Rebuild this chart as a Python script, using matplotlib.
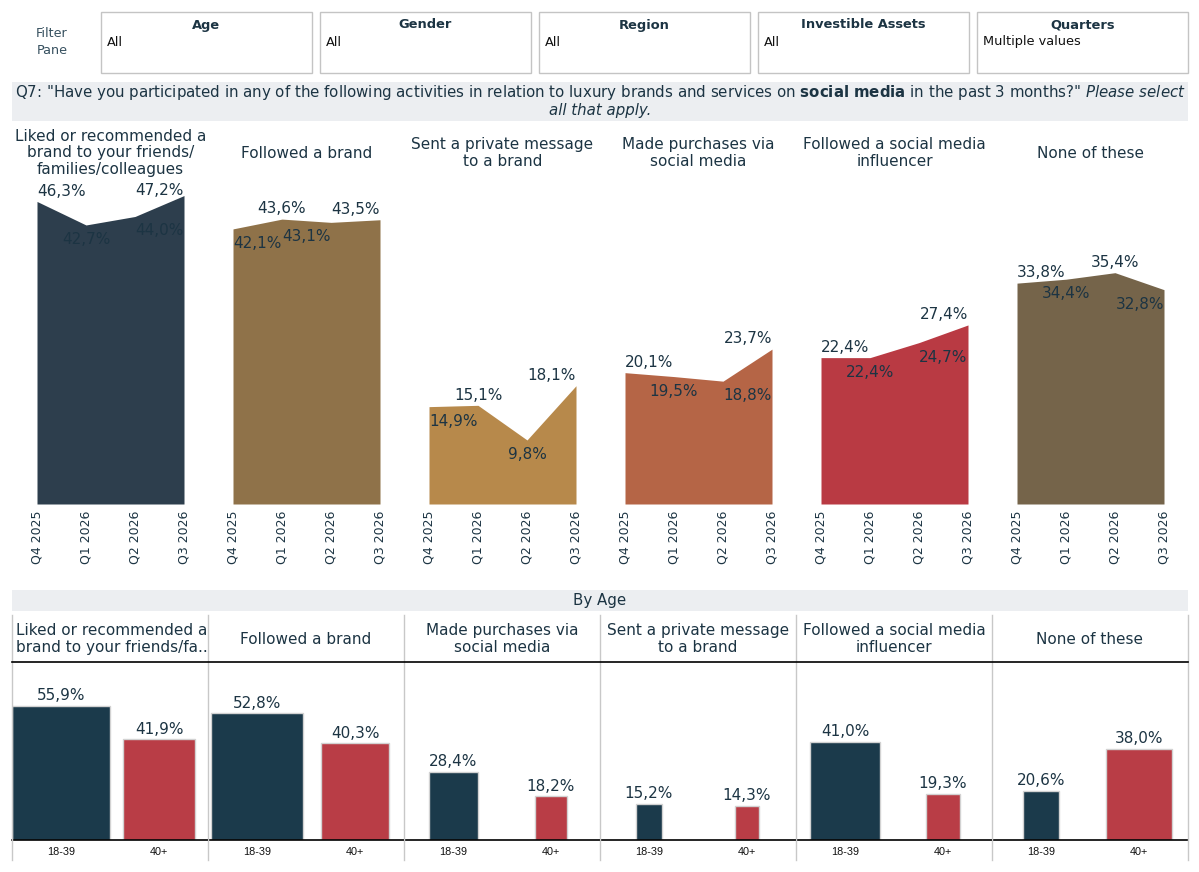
import matplotlib
matplotlib.use('Agg')
import matplotlib.pyplot as plt
from matplotlib.patches import Rectangle
from matplotlib.lines import Line2D

# ---------------- data ----------------
quarters = ['Q4 2025', 'Q1 2026', 'Q2 2026', 'Q3 2026']
activities = ['Liked or recommended a\nbrand to your friends/\nfamilies/colleagues',
              'Followed a brand',
              'Sent a private message\nto a brand',
              'Made purchases via\nsocial media',
              'Followed a social media\ninfluencer',
              'None of these']
liked = [46.3, 42.7, 44.0, 47.2]
followed_brand = [42.1, 43.6, 43.1, 43.5]
private_msg = [14.9, 15.1, 9.8, 18.1]
purchases = [20.1, 19.5, 18.8, 23.7]
influencer = [22.4, 22.4, 24.7, 27.4]
none_of_these = [33.8, 34.4, 35.4, 32.8]

age_groups = ['18-39', '40+']
age_activities = ['Liked or recommended a\nbrand to your friends/fa..',
                  'Followed a brand',
                  'Made purchases via\nsocial media',
                  'Sent a private message\nto a brand',
                  'Followed a social media\ninfluencer',
                  'None of these']
age_18_39 = [55.9, 52.8, 28.4, 15.2, 41.0, 20.6]
age_40_plus = [41.9, 40.3, 18.2, 14.3, 19.3, 38.0]
# relative base size encoded as bar width
size_18_39 = [1.0, 0.94, 0.50, 0.265, 0.72, 0.36]
size_40_plus = [0.735, 0.70, 0.32, 0.245, 0.34, 0.67]

filters = ['Age', 'Gender', 'Region', 'Investible Assets', 'Quarters']
filter_values = ['All', 'All', 'All', 'All', 'Multiple values']

# ---------------- style ----------------
W, H = 1199, 872
NAVY = '#1c3443'
area_colors = ['#2d3e4d', '#8f7249', '#b7894b', '#b56546', '#b93a43', '#75644a']
c_young = '#1b3a4b'
c_old = '#b93d46'
# (position, alignment, vertical offset in points)
label_style = [
    [('a', 'l', 2), ('b', 'c', -5), ('b', 'l', -5), ('a', 'r', -2)],
    [('b', 'l', -5), ('a', 'c', 2), ('b', 'r', -5), ('a', 'r', 2)],
    [('b', 'l', -5), ('a', 'c', 2), ('b', 'c', -5), ('a', 'r', 2)],
    [('a', 'l', 2), ('b', 'c', -5), ('b', 'l', -5), ('a', 'r', 2)],
    [('a', 'l', 2), ('b', 'c', -5), ('b', 'l', -5), ('a', 'r', 2)],
    [('a', 'l', 2), ('b', 'c', -5), ('a', 'c', 2), ('b', 'r', -5)],
]
FS = 11

plt.rcParams['font.family'] = ['DejaVu Sans']
plt.rcParams['mathtext.fontset'] = 'dejavusans'

fig = plt.figure(figsize=(W / 100, H / 100), dpi=100)
fig.patch.set_facecolor('white')


def fx(x):
    return x / W


def fy(y):
    return 1 - y / H


def add_ax(x0, y0, x1, y1):
    return fig.add_axes([fx(x0), fy(y1), (x1 - x0) / W, (y1 - y0) / H])


def frect(x0, y0, x1, y1, **kw):
    fig.add_artist(Rectangle((fx(x0), fy(y1)), (x1 - x0) / W, (y1 - y0) / H,
                             transform=fig.transFigure, **kw))


def fline(x0, y0, x1, y1, **kw):
    fig.add_artist(Line2D([fx(x0), fx(x1)], [fy(y0), fy(y1)],
                          transform=fig.transFigure, **kw))


def ftext(x, y, s, **kw):
    fig.text(fx(x), fy(y), s, **kw)


def pct(v):
    return f"{v:.1f}%".replace('.', ',')


# ---------------- filter pane ----------------
ftext(52, 42, 'Filter\nPane', ha='center', va='center', fontsize=9.2,
      color='#36505f', linespacing=1.35)
for i, (name, val) in enumerate(zip(filters, filter_values)):
    x0 = 101 + 219 * i
    x1 = x0 + 211
    frect(x0, 12, x1, 73, facecolor='white', edgecolor='#c4c4c4', lw=1)
    ftext((x0 + x1) / 2, 25, name, ha='center', va='center', fontsize=9.4,
          fontweight='bold', color=NAVY)
    ftext(x0 + 6, 42, val, ha='left', va='center', fontsize=9.3, color='#111111')

# ---------------- title band ----------------
frect(12, 82, 1188, 121, facecolor='#eceef1', edgecolor='none')
ftext(600, 93, 'Q7: "Have you participated in any of the following activities in relation '
      'to luxury brands and services on $\\mathbf{social\\ media}$ in the past 3 months?" '
      '$\\mathit{Please\\ select}$', ha='center', va='center', fontsize=10.8, color=NAVY)
ftext(600, 111, 'all that apply.', ha='center', va='center', fontsize=10.8,
      style='italic', color=NAVY)

# ---------------- area panels ----------------
series = [liked, followed_brand, private_msg, purchases, influencer, none_of_these]
for i, vals in enumerate(series):
    x0 = 37 + 196 * i
    ax = add_ax(x0, 125, x0 + 147, 504)
    xs = list(range(len(quarters)))
    ax.fill_between(xs, vals, 0, color=area_colors[i], lw=0)
    ax.set_xlim(0, 3)
    ax.set_ylim(0, 58)
    ax.set_yticks([])
    ax.set_xticks(xs)
    ax.set_xticklabels(quarters, rotation=90, fontsize=9, color=NAVY)
    ax.tick_params(axis='x', length=0, pad=5)
    for sp in ax.spines.values():
        sp.set_visible(False)
    ax.patch.set_alpha(0)
    for j, v in enumerate(vals):
        pos, al, off = label_style[i][j]
        ha = {'l': 'left', 'c': 'center', 'r': 'right'}[al]
        va = 'bottom' if pos == 'a' else 'top'
        ax.annotate(pct(v), (j, v), xytext=(0, off), textcoords='offset points',
                    ha=ha, va=va, fontsize=FS, color=NAVY, annotation_clip=False)
    ftext(x0 + 73.5, 153, activities[i], ha='center', va='center', fontsize=FS,
          color=NAVY, linespacing=1.15)

# ---------------- By Age band ----------------
frect(12, 590, 1188, 611, facecolor='#eceef1', edgecolor='none')
ftext(600, 601, 'By Age', ha='center', va='center', fontsize=10.8, color=NAVY)

for i in range(6):
    px0 = 12 + 196 * i
    ax = add_ax(px0, 662, px0 + 196, 840)
    ax.bar([0.5, 1.5], [age_18_39[i], age_40_plus[i]],
           width=[size_18_39[i], size_40_plus[i]],
           color=[c_young, c_old], edgecolor='#d2d2d2', lw=1)
    ax.set_xlim(0, 2)
    ax.set_ylim(0, 74.2)
    ax.set_yticks([])
    ax.set_xticks([0.5, 1.5])
    ax.set_xticklabels(age_groups, fontsize=7.8, family='Liberation Sans', color='#111111')
    ax.tick_params(axis='x', length=0, pad=5)
    for k in ['top', 'left', 'right']:
        ax.spines[k].set_visible(False)
    ax.spines['bottom'].set_color('black')
    ax.spines['bottom'].set_linewidth(1.2)
    ax.patch.set_alpha(0)
    for xpos, v in zip([0.5, 1.5], [age_18_39[i], age_40_plus[i]]):
        ax.annotate(pct(v), (xpos, v), xytext=(0, 2), textcoords='offset points',
                    ha='center', va='bottom', fontsize=FS, color=NAVY)
    if i == 0:
        ftext(px0 + 4, 639, age_activities[i], ha='left', va='center', fontsize=FS,
              color=NAVY, linespacing=1.15)
    else:
        ftext(px0 + 98, 639, age_activities[i], ha='center', va='center', fontsize=FS,
              color=NAVY, linespacing=1.15)

for i in range(7):
    x = 12 + 196 * i
    fline(x, 615, x, 860, color='#c8c8c8', lw=1)
fline(12, 662, 1188, 662, color='black', lw=1.2)

fig.savefig('out.png', dpi=100, facecolor='white')
